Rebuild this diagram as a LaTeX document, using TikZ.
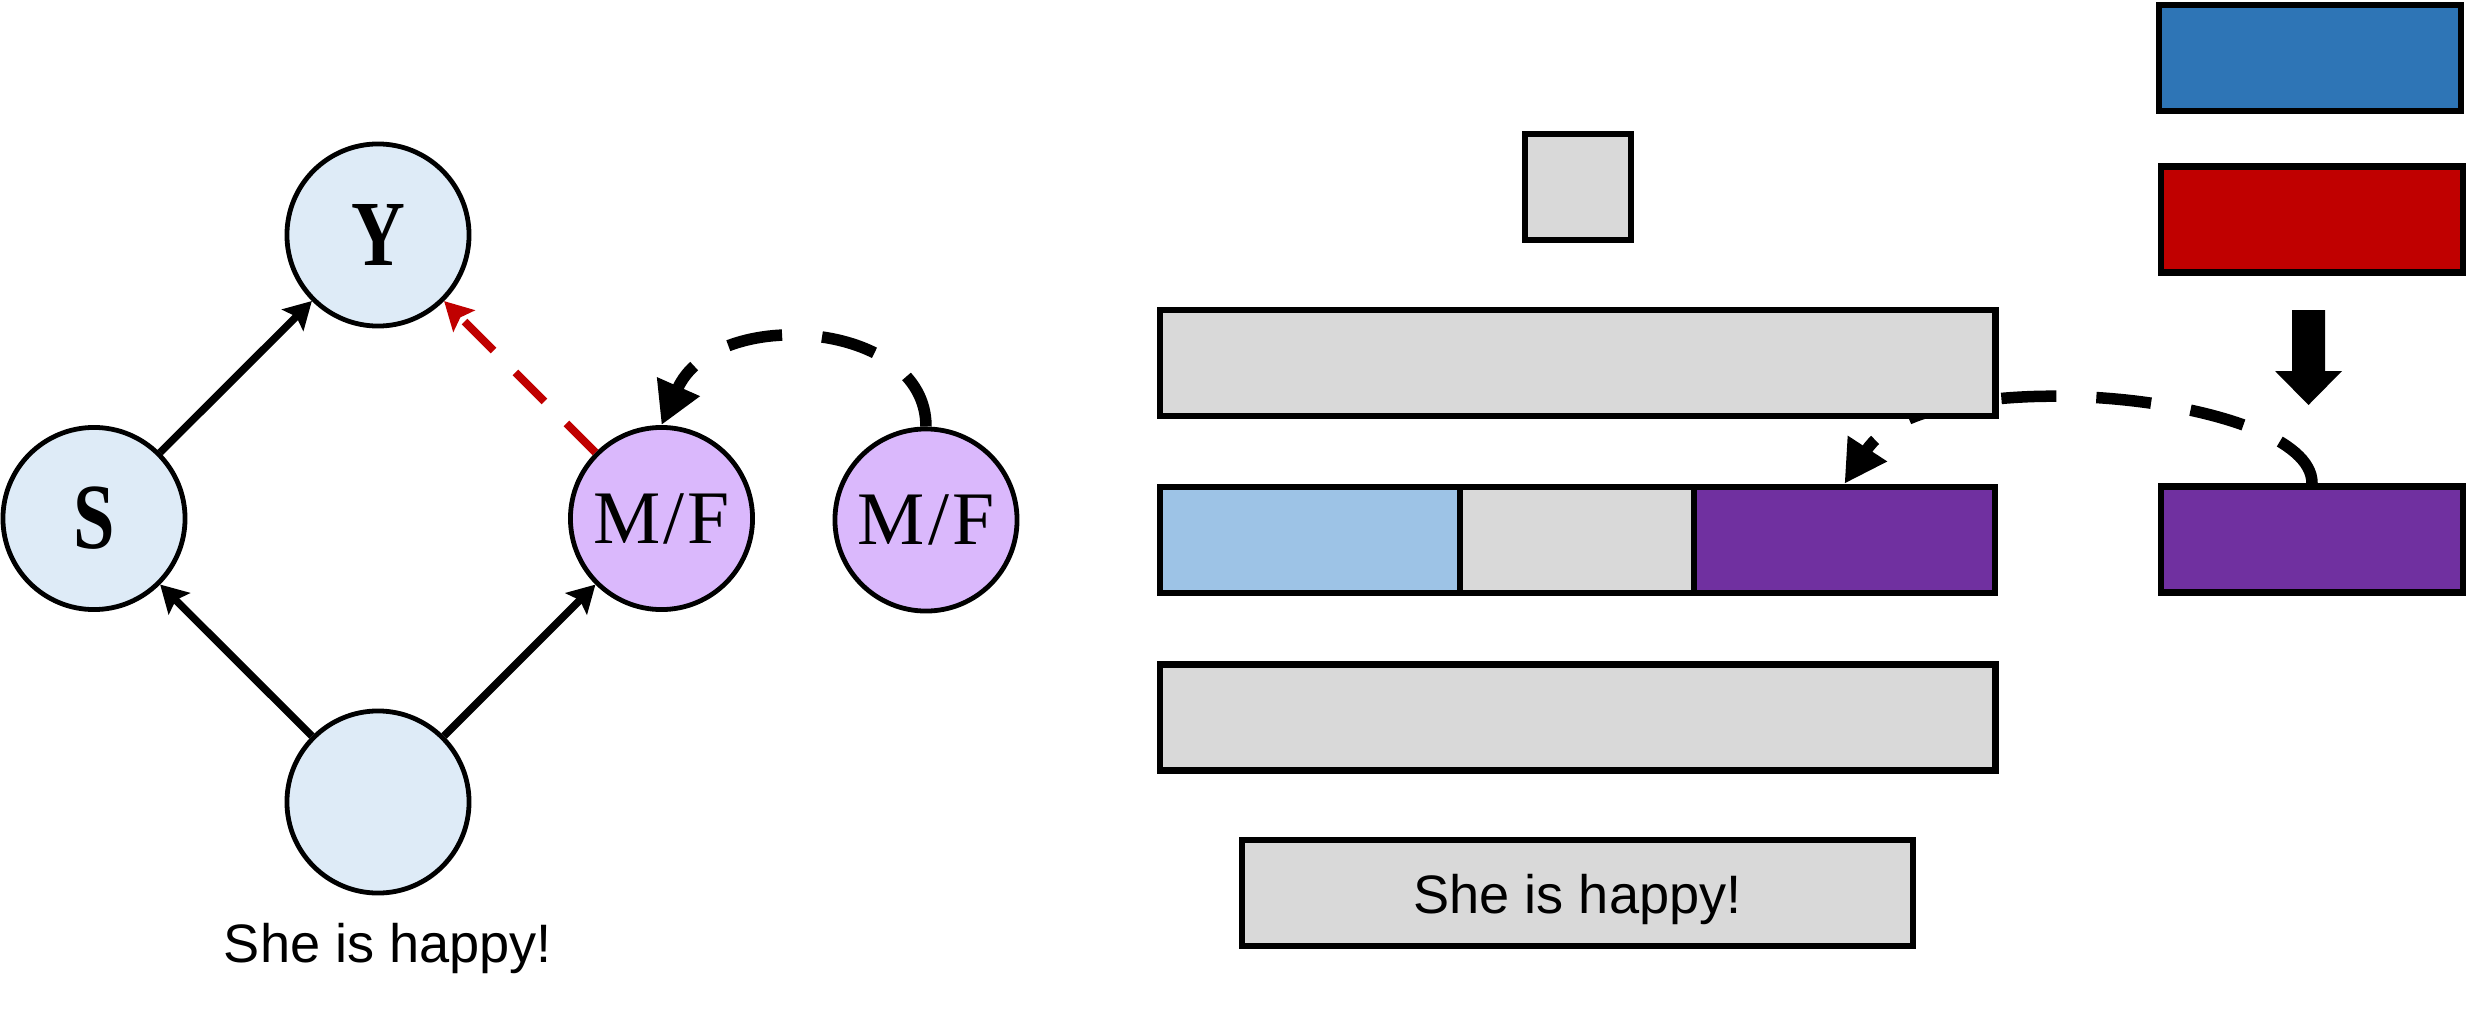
\documentclass[tikz,border=0pt]{standalone}
\usepackage{fontspec}
\setmainfont{Liberation Serif}
\newfontfamily\labsans{Liberation Sans}
\newfontfamily\condserif[FakeStretch=0.8]{Liberation Serif}
\usetikzlibrary{arrows.meta}
\definecolor{nodeblue}{HTML}{DEEBF7}
\definecolor{nodepurple}{HTML}{DAB8FC}
\definecolor{boxgray}{HTML}{D9D9D9}
\definecolor{boxlblue}{HTML}{9DC3E6}
\definecolor{boxpurple}{HTML}{7030A0}
\definecolor{boxblue}{HTML}{2E75B6}
\definecolor{boxred}{HTML}{C00000}
\pgfdeclarelayer{background}
\pgfsetlayers{background,main}
\begin{document}
\begin{tikzpicture}[x=0.01cm,y=-0.01cm,
  circ/.style={circle, draw=black, line width=0.048cm, minimum size=1.82cm, inner sep=0pt, fill=nodeblue},
  pcirc/.style={circ, fill=nodepurple},
  boldlab/.style={font=\condserif\fontsize{26.5pt}{30pt}\selectfont\bfseries},
  mflab/.style={font=\fontsize{21.5pt}{25pt}\selectfont},
  box/.style={rectangle, draw=black, line width=0.065cm, inner sep=0pt, minimum height=1.06cm, fill=boxgray},
  solidarr/.style={line width=0.075cm, -{Stealth[length=0.27cm, width=0.30cm, inset=0.05cm]}},
  redarr/.style={line width=0.08cm, draw=boxred, dash pattern=on 0.41cm off 0.31cm,
     -{Stealth[length=0.28cm, width=0.30cm, inset=0.05cm, fill=boxred]}},
  curvearr/.style={line width=0.115cm, dash pattern=on 0.55cm off 0.40cm,
     -{Triangle[length=0.42cm, width=0.44cm]}},
  sanstext/.style={font=\labsans\fontsize{15.4pt}{18pt}\selectfont}
]
\useasboundingbox (0,0) rectangle (2469,1009);

% ---- left causal graph ----
\node[circ, boldlab] (y) at (378,235) {Y};
\node[circ, boldlab] (s) at (94,518.5) {S};
\node[pcirc, mflab] (mf1) at (661.5,518.5) {M\kern0.04em/\kern0.04em F};
\node[circ] (u) at (378,802) {};
\node[pcirc, mflab] (mf2) at (926,520) {M\kern0.04em/\kern0.04em F};
\node[sanstext, anchor=base, inner sep=0pt] (txtl) at (388,962) {She is happy!};

\draw[solidarr] (s) -- (y);
\draw[solidarr] (u) -- (s);
\draw[solidarr] (u) -- (mf1);
\draw[redarr] (mf1) -- (y);
\draw[curvearr] (mf2.north) .. controls +(0,-107) and +(53,-120) .. (mf1.north);

% ---- right bars ----
\node[box, minimum width=1.06cm] (sq) at (1578,187) {};
\node[box, minimum width=8.35cm] (r1) at (1577.5,363) {};
\node[box, minimum width=3.00cm, fill=boxlblue] (rb) at (1310,540) {};
\node[box, minimum width=2.34cm] (rg) at (1577,540) {};
\node[box, minimum width=3.01cm, fill=boxpurple] (rp) at (1844.5,540) {};
\node[box, minimum width=8.35cm] (r3) at (1577.5,717.5) {};
\node[box, minimum width=6.71cm, sanstext, text height=0.40cm, text depth=0pt] (r4) at (1577.5,893) {She is happy!};

\node[box, minimum width=3.02cm, fill=boxblue] (tb) at (2310,58) {};
\node[box, minimum width=3.02cm, fill=boxred] (tr) at (2312,219.5) {};
\node[box, minimum width=3.02cm, fill=boxpurple] (tp) at (2312,539.5) {};

\fill[black] (2292,310) -- (2325,310) -- (2325,371) -- (2342,371) -- (2308.5,405)
  -- (2275,371) -- (2292,371) -- cycle;

\begin{pgfonlayer}{background}
\draw[curvearr] (tp.north) .. controls +(0,-88) and +(83,-127) .. (rp.north);
\end{pgfonlayer}
\end{tikzpicture}
\end{document}
